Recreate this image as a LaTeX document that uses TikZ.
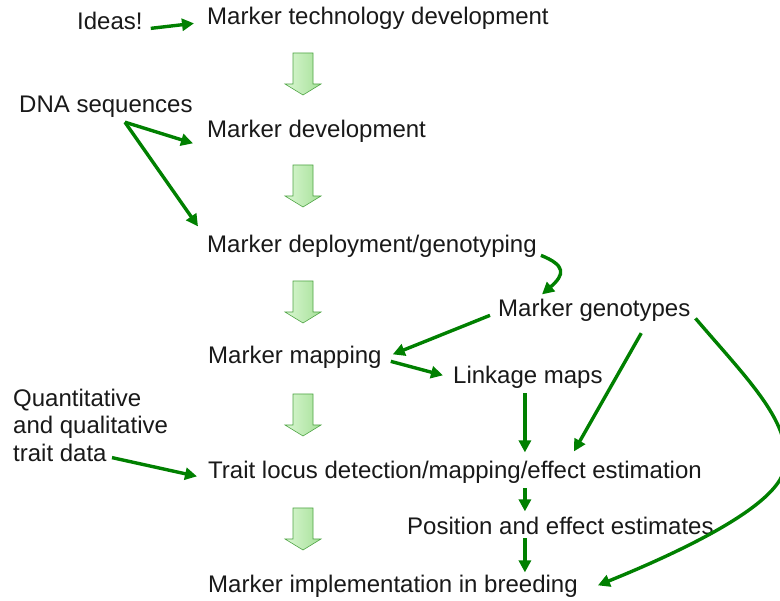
\documentclass[tikz,border=0pt]{standalone}
\usepackage{fontspec}
\setmainfont{Liberation Sans}
\usetikzlibrary{calc,arrows.meta}
\definecolor{connc}{RGB}{0,128,0}
\definecolor{txtc}{RGB}{25,25,25}
\definecolor{blight}{RGB}{218,247,210}
\definecolor{bdark}{RGB}{165,224,152}
\definecolor{bline}{RGB}{80,165,70}
\begin{document}
\begin{tikzpicture}[x=1pt,y=-1pt,
  lbl/.style={inner sep=0pt, anchor=base west, text=txtc, font=\fontsize{24}{27.5}\selectfont},
  conn/.style={draw=connc, line width=3.4pt, -{Triangle[length=12pt,width=12pt]}},
  blockarr/.pic={\path[left color=blight, right color=bdark, draw=bline, line width=0.6pt]
     (-10,0) -- (10,0) -- (10,31) -- (18,31) -- (0,42) -- (-18,31) -- (-10,31) -- cycle;}]
\useasboundingbox (0,0) rectangle (780,601);
\clip (0,0) rectangle (780,601);
\fill[white] (0,0) rectangle (780,601);

% nodes
\node[lbl] (ideas) at (77,30) {Ideas!};
\node[lbl] (mtd) at (207,25) {Marker technology development};
\node[lbl] (dna) at (19,113) {DNA sequences};
\node[lbl] (md) at (207,138) {Marker development};
\node[lbl] (mdep) at (207,253) {Marker deployment/genotyping};
\node[lbl] (mg) at (498,317) {Marker genotypes};
\node[lbl] (mm) at (208,364) {Marker mapping};
\node[lbl] (lm) at (453,384) {Linkage maps};
\node[lbl, align=left, anchor=north west] (qt) at (13,388.6) {Quantitative\\and qualitative\\trait data};
\node[lbl] (tl) at (208,479) {Trait locus detection/mapping/effect estimation};
\node[lbl] (pos) at (407,535) {Position and effect estimates};
\node[lbl] (mi) at (208,593) {Marker implementation in breeding};

% block arrows
\pic (b1) at (303,53) {blockarr};
\pic (b2) at (303,165) {blockarr};
\pic (b3) at (303,281) {blockarr};
\pic (b4) at (303,394) {blockarr};
\pic (b5) at (303,508) {blockarr};

% connectors
\draw[conn] ([shift={(8,1)}]ideas.mid east) -- ([shift={(-13,1)}]mtd.mid west);
\draw[conn] ($(dna.south)+(19,4)$) -- ($(md.mid west)+(-14,8)$);
\draw[conn] ($(dna.south)+(19,4)$) -- ($(mdep.north west)+(-9,-9)$);
\draw[conn] ($(mdep.mid east)+(4,5)$) .. controls +(25,10) and +(23,-20) .. ($(mg.north west)+(44,-5)$);
\draw[conn] ($(mg.mid west)+(-8,1)$) -- ($(mm.mid east)+(11,-7)$);
\draw[conn] ($(mm.mid east)+(9,0)$) -- ($(lm.mid west)+(-10,-6)$);
\draw[conn] ($(lm.south)+(-3,4)$) -- ($(lm.south |- tl.north)+(-3,-9)$);
\draw[conn] ($(mg.south)+(47,11)$) -- ($(tl.north east)+(-128,-10)$);
\draw[conn] ($(lm.south |- tl.south)+(-3,4)$) -- ($(lm.south |- pos.north)+(-3,-6)$);
\draw[conn] ($(lm.south |- pos.south)+(-3,3)$) -- ($(lm.south |- mi.north)+(-3,-3)$);
\draw[conn] ($(qt.south west)+(99,-4)$) -- ($(tl.mid west)+(-11,0)$);
\draw[conn] ($(mg.mid east)+(5,4)$) .. controls (748,380) and (795,425) .. (784,470)
   .. controls (776,505) and (690,548) .. ($(mi.mid east)+(20,-5)$);
\end{tikzpicture}
\end{document}
